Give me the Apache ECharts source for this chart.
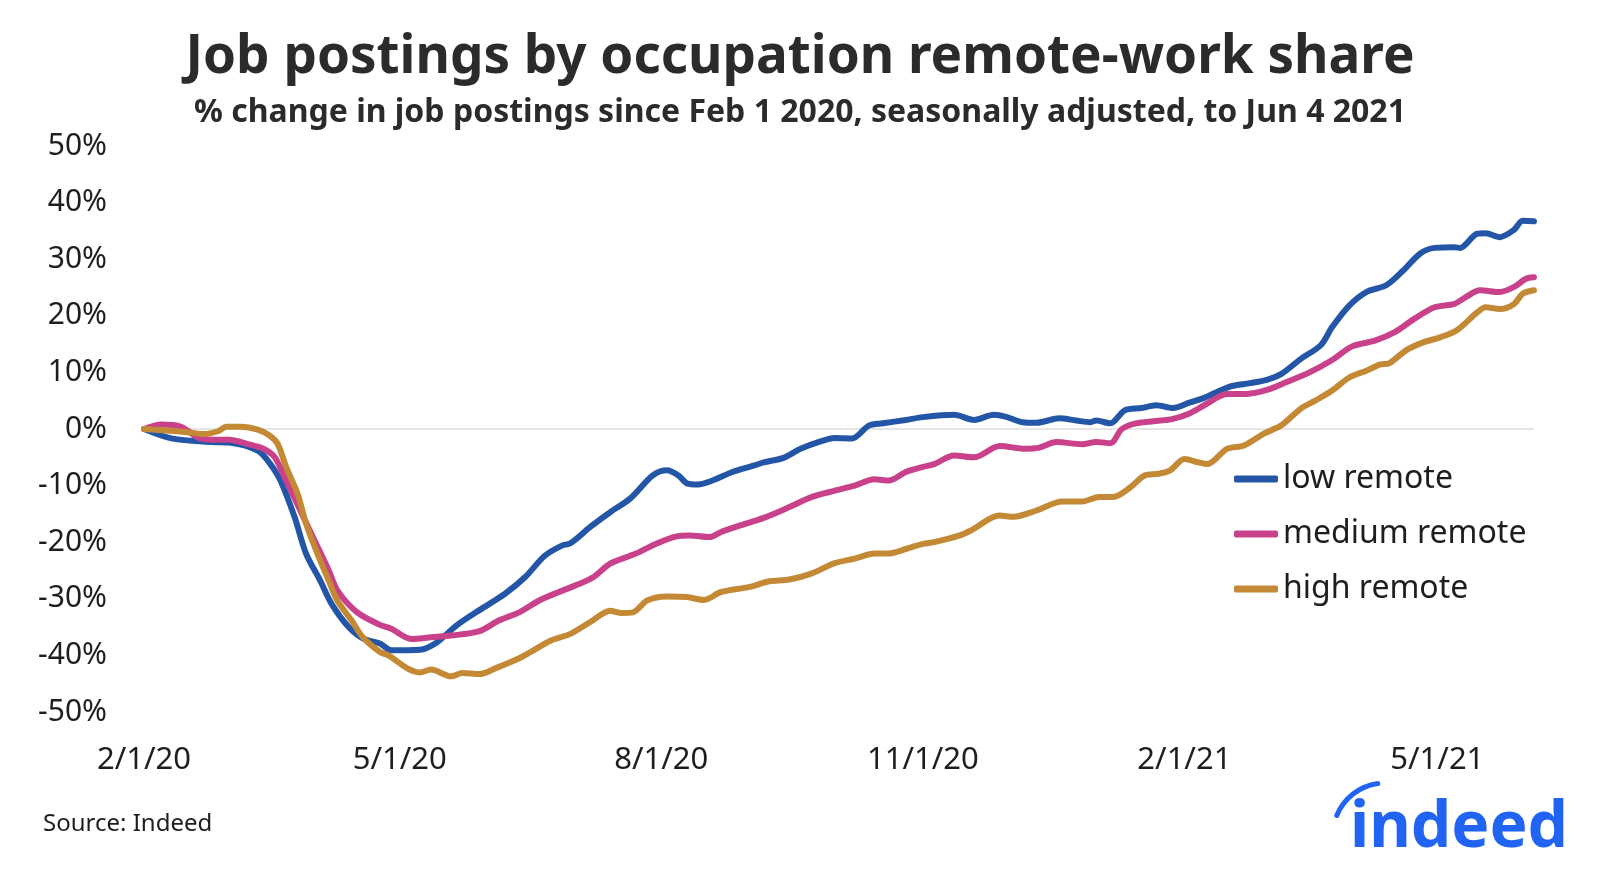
<!DOCTYPE html>
<html>
<head>
<meta charset="utf-8">
<script src="https://cdn.jsdelivr.net/npm/echarts@6.0.0/dist/echarts.min.js"></script>
<style>
html,body{margin:0;padding:0;background:#fff;}
#chart{width:1600px;height:877px;}
</style>
</head>
<body>
<div id="chart"></div>
<script>
// ---- DATA ----
const seriesNames = ['low remote', 'medium remote', 'high remote'];

const lowDates = ['2020-02-01','2020-02-11','2020-02-25','2020-03-02','2020-03-12','2020-03-16','2020-03-20','2020-03-25','2020-03-29','2020-04-03','2020-04-07','2020-04-13','2020-04-18','2020-04-24','2020-04-28','2020-05-08','2020-05-14','2020-05-21','2020-05-29','2020-06-07','2020-06-14','2020-06-21','2020-06-27','2020-06-30','2020-07-07','2020-07-14','2020-07-21','2020-07-29','2020-08-03','2020-08-07','2020-08-10','2020-08-14','2020-08-19','2020-08-26','2020-09-03','2020-09-06','2020-09-13','2020-09-19','2020-09-26','2020-10-01','2020-10-07','2020-10-13','2020-10-18','2020-10-26','2020-11-01','2020-11-12','2020-11-19','2020-11-26','2020-11-30','2020-12-06','2020-12-11','2020-12-19','2020-12-25','2020-12-30','2021-01-01','2021-01-06','2021-01-11','2021-01-17','2021-01-22','2021-01-28','2021-02-03','2021-02-08','2021-02-17','2021-02-24','2021-03-02','2021-03-07','2021-03-14','2021-03-21','2021-03-25','2021-03-31','2021-04-06','2021-04-13','2021-04-19','2021-04-25','2021-04-30','2021-05-07','2021-05-09','2021-05-15','2021-05-18','2021-05-23','2021-05-28','2021-05-31','2021-06-04'];
const lowValues = [0,-1.7,-2.3,-2.4,-3.8,-5.9,-9.1,-15.6,-22,-26.8,-30.9,-35,-37,-37.9,-39.1,-39,-37.7,-34.7,-32,-29.1,-26.2,-22.4,-20.6,-20.2,-17.3,-14.7,-12.3,-8.2,-7.3,-8.2,-9.6,-9.8,-9.1,-7.6,-6.4,-5.9,-5.1,-3.5,-2.2,-1.6,-1.7,0.6,1.0,1.6,2.1,2.5,1.6,2.5,2.2,1.2,1.1,1.9,1.5,1.2,1.5,1.0,3.3,3.7,4.2,3.7,4.7,5.5,7.5,8.1,8.7,9.7,12.4,14.8,18.0,21.8,24.2,25.4,28.0,31.0,32.0,32.1,32.0,34.5,34.6,33.9,35.2,36.8,36.7];

const mediumDates = ['2020-02-01','2020-02-07','2020-02-14','2020-02-21','2020-02-27','2020-03-02','2020-03-08','2020-03-14','2020-03-18','2020-03-22','2020-03-27','2020-04-01','2020-04-06','2020-04-09','2020-04-16','2020-04-24','2020-04-28','2020-05-05','2020-05-12','2020-05-19','2020-05-29','2020-06-05','2020-06-12','2020-06-19','2020-06-26','2020-07-03','2020-07-08','2020-07-14','2020-07-21','2020-07-24','2020-07-30','2020-08-06','2020-08-11','2020-08-18','2020-08-22','2020-08-29','2020-09-06','2020-09-15','2020-09-23','2020-10-01','2020-10-08','2020-10-15','2020-10-20','2020-10-26','2020-11-01','2020-11-05','2020-11-12','2020-11-19','2020-11-28','2020-12-07','2020-12-12','2020-12-18','2020-12-27','2021-01-01','2021-01-06','2021-01-10','2021-01-15','2021-01-22','2021-01-28','2021-02-03','2021-02-08','2021-02-16','2021-02-23','2021-03-02','2021-03-09','2021-03-17','2021-03-25','2021-04-01','2021-04-09','2021-04-16','2021-04-23','2021-04-30','2021-05-07','2021-05-11','2021-05-16','2021-05-23','2021-05-28','2021-06-01','2021-06-04'];
const mediumValues = [0,0.8,0.4,-1.7,-1.9,-1.9,-2.6,-3.5,-5,-9.1,-14.4,-19.7,-25,-28.5,-32.4,-34.6,-35.3,-37.1,-36.8,-36.5,-35.7,-33.8,-32.4,-30.3,-28.8,-27.4,-26.2,-23.8,-22.4,-21.8,-20.3,-19,-18.8,-19.1,-18.2,-17.0,-15.7,-13.8,-12.0,-10.9,-10.0,-8.9,-9.1,-7.6,-6.7,-6.2,-4.7,-5.0,-3.0,-3.5,-3.3,-2.3,-2.7,-2.3,-2.5,0,1.0,1.4,1.8,2.8,4.2,6.2,6.2,6.9,8.3,10.0,12.2,14.6,15.6,17.1,19.5,21.5,22.1,23.3,24.5,24.2,25.1,26.5,26.8];

const highDates = ['2020-02-01','2020-02-10','2020-02-17','2020-02-22','2020-02-27','2020-03-01','2020-03-06','2020-03-12','2020-03-16','2020-03-19','2020-03-22','2020-03-26','2020-03-29','2020-04-02','2020-04-06','2020-04-09','2020-04-14','2020-04-18','2020-04-24','2020-04-27','2020-05-04','2020-05-08','2020-05-12','2020-05-19','2020-05-23','2020-05-29','2020-06-04','2020-06-12','2020-06-16','2020-06-23','2020-06-30','2020-07-07','2020-07-14','2020-07-18','2020-07-22','2020-07-27','2020-08-03','2020-08-10','2020-08-16','2020-08-22','2020-09-01','2020-09-08','2020-09-15','2020-09-23','2020-10-01','2020-10-08','2020-10-15','2020-10-20','2020-10-26','2020-11-01','2020-11-05','2020-11-14','2020-11-18','2020-11-28','2020-12-03','2020-12-11','2020-12-20','2020-12-27','2021-01-02','2021-01-07','2021-01-13','2021-01-18','2021-01-23','2021-01-27','2021-02-01','2021-02-06','2021-02-09','2021-02-16','2021-02-22','2021-03-01','2021-03-07','2021-03-14','2021-03-19','2021-03-25','2021-03-31','2021-04-06','2021-04-11','2021-04-14','2021-04-20','2021-04-26','2021-05-02','2021-05-08','2021-05-15','2021-05-18','2021-05-23','2021-05-28','2021-05-31','2021-06-04'];
const highValues = [0,-0.3,-0.6,-0.9,-0.4,0.4,0.4,-0.1,-1.1,-2.6,-6.7,-11.4,-16.7,-22,-26.8,-30.3,-33.8,-36.8,-39.4,-40,-42.4,-43,-42.5,-43.7,-43.1,-43.3,-42.2,-40.5,-39.4,-37.4,-36.2,-34.1,-32.1,-32.5,-32.4,-30.3,-29.6,-29.7,-30.2,-28.8,-27.9,-26.9,-26.6,-25.5,-23.7,-22.9,-22.0,-22.0,-21.2,-20.3,-20.0,-18.8,-17.9,-15.3,-15.5,-14.4,-12.8,-12.8,-12.0,-12.0,-10.3,-8.2,-7.9,-7.3,-5.3,-5.9,-6.2,-3.5,-2.9,-0.8,0.6,3.6,5.0,6.8,9.1,10.3,11.4,11.6,13.9,15.3,16.2,17.5,20.6,21.5,21.2,22.1,23.9,24.5];

const xTickDates = ['2020-02-01','2020-05-01','2020-08-01','2020-11-01','2021-02-01','2021-05-01'];
const xTickLabels = ['2/1/20','5/1/20','8/1/20','11/1/20','2/1/21','5/1/21'];
const xStart = '2020-02-01';
const xEnd = '2021-06-04';
const yTicks = [-50,-40,-30,-20,-10,0,10,20,30,40,50];

const titleText = 'Job postings by occupation remote-work share';
const subtitleText = '% change in job postings since Feb 1 2020, seasonally adjusted, to Jun 4 2021';
const sourceText = 'Source: Indeed';
const logoText = 'indeed';

// ---- BUILD ----
function ts(s) { const p = s.split('-').map(Number); return Date.UTC(p[0], p[1] - 1, p[2]); }
function pairs(d, v) { return d.map((x, i) => [ts(x), v[i]]); }
const tickTs = xTickDates.map(ts);

const colors = ['#2356A6', '#C8418A', '#C48934'];
const FONT = 'Noto Sans';

const chart = echarts.init(document.getElementById('chart'), null, { renderer: 'canvas' });

const splitColors = yTicks.map(t => t === 0 ? '#dddddd' : 'rgba(0,0,0,0)');

const option = {
  animation: false,
  backgroundColor: '#ffffff',
  textStyle: { fontFamily: FONT },
  title: [
    { text: titleText, left: 'center', top: 26,
      textStyle: { fontFamily: FONT, fontWeight: 'bold', fontSize: 53, color: '#2b2b2b' } },
    { text: subtitleText, left: 'center', top: 92,
      textStyle: { fontFamily: FONT, fontWeight: 'bold', fontSize: 32, color: '#2b2b2b' } }
  ],
  grid: { left: 144, right: 66, top: 146, bottom: 165, containLabel: false },
  legend: {
    orient: 'vertical', left: 1229, top: 458,
    itemWidth: 44, itemHeight: 7, itemGap: 23,
    icon: 'roundRect',
    textStyle: { fontFamily: FONT, fontSize: 32, color: '#1e1e1e' },
    data: seriesNames
  },
  xAxis: {
    type: 'value',
    min: ts(xStart), max: ts(xEnd),
    axisLine: { show: false }, axisTick: { show: false }, splitLine: { show: false },
    axisLabel: {
      customValues: tickTs,
      showMinLabel: true, showMaxLabel: true,
      margin: 33,
      fontFamily: FONT, fontSize: 31, color: '#1e1e1e',
      formatter: function (v) {
        const i = tickTs.indexOf(v);
        return i >= 0 ? xTickLabels[i] : '';
      }
    }
  },
  yAxis: {
    type: 'value', min: -50, max: 50, interval: 10,
    axisLine: { show: false }, axisTick: { show: false },
    splitLine: { show: true, lineStyle: { color: splitColors, width: 1.5 } },
    axisLabel: { formatter: '{value}%', margin: 37, fontFamily: FONT, fontSize: 30, color: '#1e1e1e' }
  },
  series: [
    { name: seriesNames[0], type: 'line', data: pairs(lowDates, lowValues), showSymbol: false, smooth: 0.3,
      lineStyle: { width: 6, color: colors[0], cap: 'round', join: 'round' }, itemStyle: { color: colors[0] } },
    { name: seriesNames[1], type: 'line', data: pairs(mediumDates, mediumValues), showSymbol: false, smooth: 0.3,
      lineStyle: { width: 6, color: colors[1], cap: 'round', join: 'round' }, itemStyle: { color: colors[1] } },
    { name: seriesNames[2], type: 'line', data: pairs(highDates, highValues), showSymbol: false, smooth: 0.3,
      lineStyle: { width: 6, color: colors[2], cap: 'round', join: 'round' }, itemStyle: { color: colors[2] } }
  ],
  graphic: [
    { type: 'text', left: 43, top: 812,
      style: { text: sourceText, fontFamily: FONT, fontSize: 24, fill: '#1e1e1e' } },
    { type: 'text', left: 1350, top: 797,
      style: { text: logoText, fontFamily: FONT, fontWeight: 'bold', fontSize: 64, fill: '#2164F3' } },
    { type: 'arc',
      shape: { cx: 1385, cy: 835, r: 52, startAngle: 202 * Math.PI / 180, endAngle: 262 * Math.PI / 180, clockwise: true },
      style: { stroke: '#2164F3', lineWidth: 5, fill: null, lineCap: 'round' } }
  ]
};

chart.setOption(option);
</script>
</body>
</html>
